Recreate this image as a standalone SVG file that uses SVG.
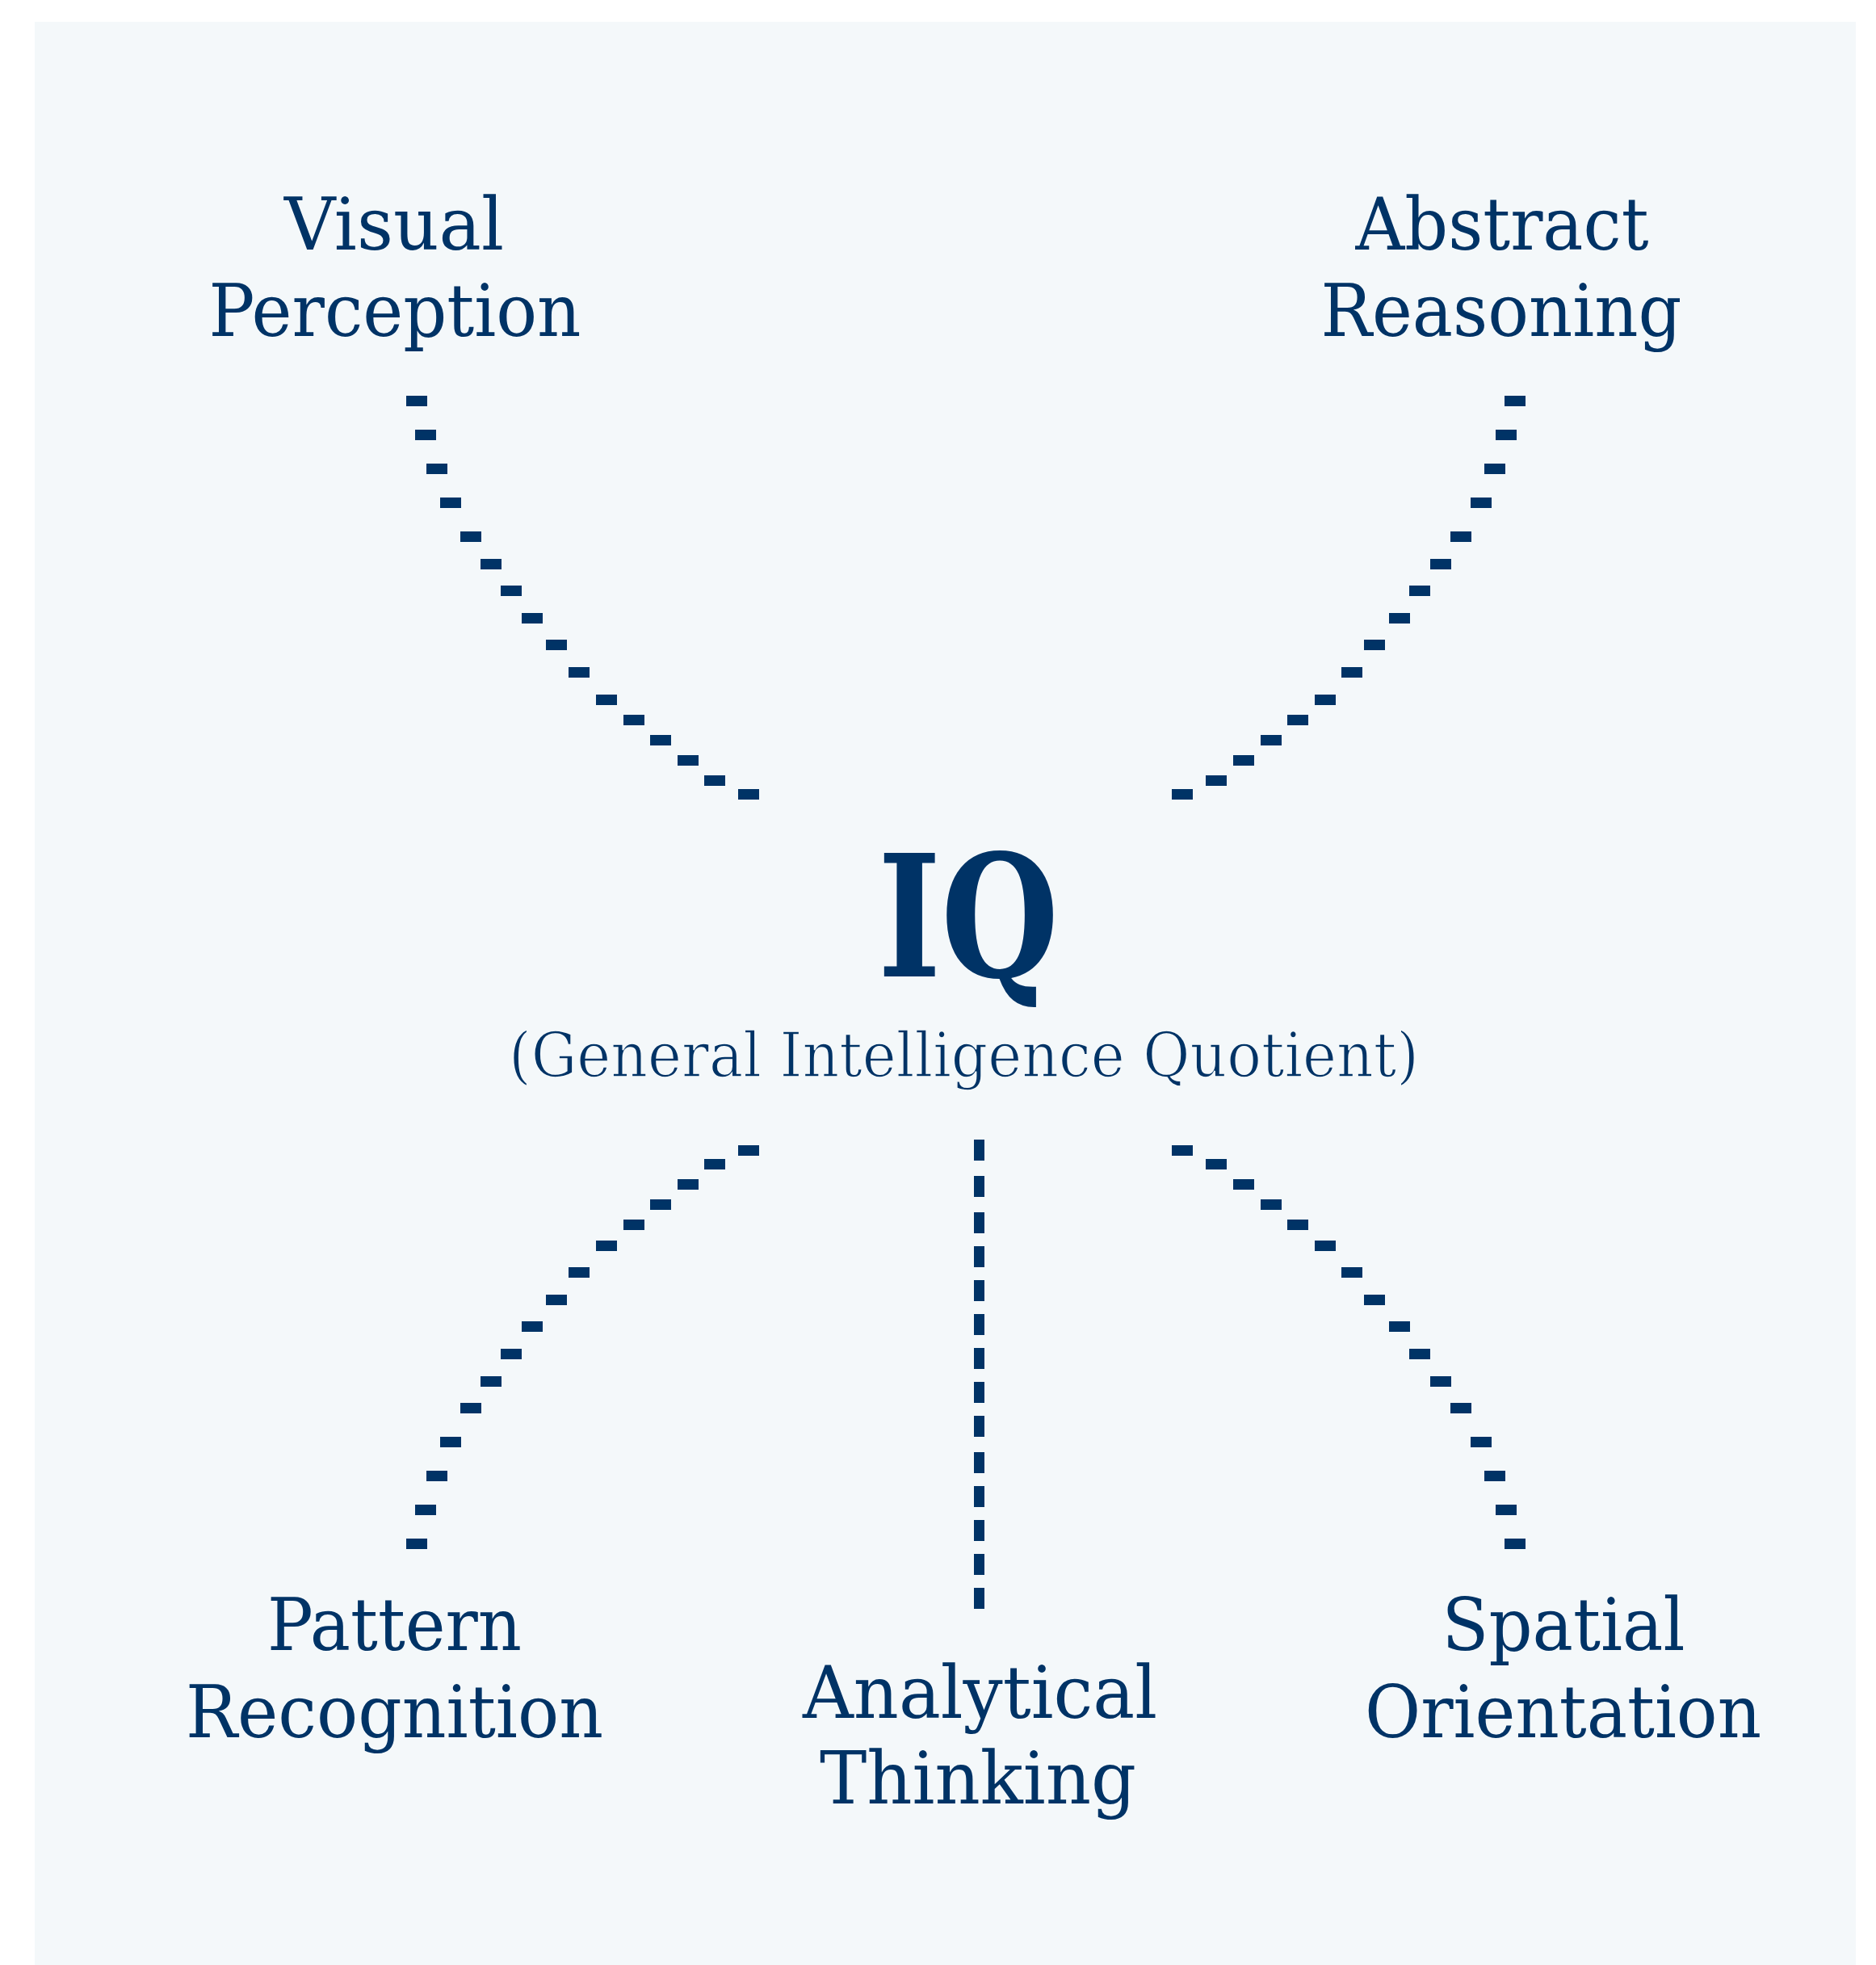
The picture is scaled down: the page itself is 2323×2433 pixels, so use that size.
<svg xmlns="http://www.w3.org/2000/svg" width="2323" height="2433" viewBox="0 0 2323 2433">
<style>
.bg{fill:#F4F8FA}
.lbl{font-family:"DejaVu Serif","Liberation Serif",serif;font-size:89px;fill:#003366;text-anchor:middle}
.iq{font-family:"DejaVu Serif","Liberation Serif",serif;font-size:210px;font-weight:bold;fill:#003366;text-anchor:middle}
.sub{font-family:"DejaVu Serif","Liberation Serif",serif;font-size:77px;fill:#003366;text-anchor:middle;stroke:#F4F8FA;stroke-width:1.6}
.d{fill:#003366}
</style>
<rect class="bg" x="43" y="27" width="2255" height="2406"/>
<g id="connectors">
<g id="c-visual">
<rect class="d" x="503" y="490" width="26" height="13"/>
<rect class="d" x="514" y="532" width="26" height="13"/>
<rect class="d" x="528" y="574" width="26" height="13"/>
<rect class="d" x="545" y="616" width="26" height="13"/>
<rect class="d" x="570" y="658" width="26" height="13"/>
<rect class="d" x="595" y="692" width="26" height="13"/>
<rect class="d" x="620" y="725" width="26" height="13"/>
<rect class="d" x="646" y="759" width="26" height="13"/>
<rect class="d" x="676" y="792" width="26" height="13"/>
<rect class="d" x="704" y="826" width="26" height="13"/>
<rect class="d" x="738" y="860" width="26" height="13"/>
<rect class="d" x="772" y="885" width="26" height="13"/>
<rect class="d" x="805" y="910" width="26" height="13"/>
<rect class="d" x="839" y="935" width="26" height="13"/>
<rect class="d" x="872" y="960" width="26" height="13"/>
<rect class="d" x="914" y="977" width="26" height="13"/>
</g>
<g id="c-abstract">
<rect class="d" x="1863" y="490" width="26" height="13"/>
<rect class="d" x="1852" y="532" width="26" height="13"/>
<rect class="d" x="1838" y="574" width="26" height="13"/>
<rect class="d" x="1821" y="616" width="26" height="13"/>
<rect class="d" x="1796" y="658" width="26" height="13"/>
<rect class="d" x="1771" y="692" width="26" height="13"/>
<rect class="d" x="1745" y="725" width="26" height="13"/>
<rect class="d" x="1720" y="759" width="26" height="13"/>
<rect class="d" x="1689" y="792" width="26" height="13"/>
<rect class="d" x="1661" y="826" width="26" height="13"/>
<rect class="d" x="1628" y="860" width="26" height="13"/>
<rect class="d" x="1594" y="885" width="26" height="13"/>
<rect class="d" x="1561" y="910" width="26" height="13"/>
<rect class="d" x="1527" y="935" width="26" height="13"/>
<rect class="d" x="1493" y="960" width="26" height="13"/>
<rect class="d" x="1451" y="977" width="26" height="13"/>
</g>
<g id="c-pattern">
<rect class="d" x="914" y="1418" width="26" height="13"/>
<rect class="d" x="872" y="1435" width="26" height="13"/>
<rect class="d" x="839" y="1460" width="26" height="13"/>
<rect class="d" x="805" y="1485" width="26" height="13"/>
<rect class="d" x="772" y="1510" width="26" height="13"/>
<rect class="d" x="738" y="1536" width="26" height="13"/>
<rect class="d" x="704" y="1569" width="26" height="13"/>
<rect class="d" x="676" y="1603" width="26" height="13"/>
<rect class="d" x="646" y="1636" width="26" height="13"/>
<rect class="d" x="620" y="1670" width="26" height="13"/>
<rect class="d" x="595" y="1704" width="26" height="13"/>
<rect class="d" x="570" y="1737" width="26" height="13"/>
<rect class="d" x="545" y="1779" width="26" height="13"/>
<rect class="d" x="528" y="1821" width="26" height="13"/>
<rect class="d" x="514" y="1863" width="26" height="13"/>
<rect class="d" x="503" y="1905" width="26" height="13"/>
</g>
<g id="c-spatial">
<rect class="d" x="1451" y="1418" width="26" height="13"/>
<rect class="d" x="1493" y="1435" width="26" height="13"/>
<rect class="d" x="1527" y="1460" width="26" height="13"/>
<rect class="d" x="1561" y="1485" width="26" height="13"/>
<rect class="d" x="1594" y="1510" width="26" height="13"/>
<rect class="d" x="1628" y="1536" width="26" height="13"/>
<rect class="d" x="1661" y="1569" width="26" height="13"/>
<rect class="d" x="1689" y="1603" width="26" height="13"/>
<rect class="d" x="1720" y="1636" width="26" height="13"/>
<rect class="d" x="1745" y="1670" width="26" height="13"/>
<rect class="d" x="1771" y="1704" width="26" height="13"/>
<rect class="d" x="1796" y="1737" width="26" height="13"/>
<rect class="d" x="1821" y="1779" width="26" height="13"/>
<rect class="d" x="1838" y="1821" width="26" height="13"/>
<rect class="d" x="1852" y="1863" width="26" height="13"/>
<rect class="d" x="1863" y="1905" width="26" height="13"/>
</g>
<g id="c-analytical">
<rect class="d" x="1206" y="1411" width="13" height="26"/>
<rect class="d" x="1206" y="1456" width="13" height="26"/>
<rect class="d" x="1206" y="1501" width="13" height="26"/>
<rect class="d" x="1206" y="1543" width="13" height="26"/>
<rect class="d" x="1206" y="1585" width="13" height="26"/>
<rect class="d" x="1206" y="1627" width="13" height="26"/>
<rect class="d" x="1206" y="1669" width="13" height="26"/>
<rect class="d" x="1206" y="1711" width="13" height="26"/>
<rect class="d" x="1206" y="1753" width="13" height="26"/>
<rect class="d" x="1206" y="1798" width="13" height="26"/>
<rect class="d" x="1206" y="1840" width="13" height="26"/>
<rect class="d" x="1206" y="1882" width="13" height="26"/>
<rect class="d" x="1206" y="1924" width="13" height="26"/>
<rect class="d" x="1206" y="1966" width="13" height="26"/>
</g>
</g>
<g id="node-iq">
<text class="iq" x="1199" y="1209" textLength="224" lengthAdjust="spacingAndGlyphs">IQ</text>
<text class="sub" x="1193.5" y="1333" textLength="1127" lengthAdjust="spacingAndGlyphs">(General Intelligence Quotient)</text>
</g>
<g id="node-visual">
<text class="lbl" x="488" y="309" textLength="272" lengthAdjust="spacingAndGlyphs">Visual</text>
<text class="lbl" x="489" y="416" textLength="461" lengthAdjust="spacingAndGlyphs">Perception</text>
</g>
<g id="node-abstract">
<text class="lbl" x="1860" y="309" textLength="363" lengthAdjust="spacingAndGlyphs">Abstract</text>
<text class="lbl" x="1859" y="416" textLength="447" lengthAdjust="spacingAndGlyphs">Reasoning</text>
</g>
<g id="node-pattern">
<text class="lbl" x="488.5" y="2043" textLength="315" lengthAdjust="spacingAndGlyphs">Pattern</text>
<text class="lbl" x="488.5" y="2151" textLength="517" lengthAdjust="spacingAndGlyphs">Recognition</text>
</g>
<g id="node-analytical">
<text class="lbl" x="1213.5" y="2127" textLength="439" lengthAdjust="spacingAndGlyphs">Analytical</text>
<text class="lbl" x="1211" y="2233" textLength="392" lengthAdjust="spacingAndGlyphs">Thinking</text>
</g>
<g id="node-spatial">
<text class="lbl" x="1936" y="2043" textLength="301" lengthAdjust="spacingAndGlyphs">Spatial</text>
<text class="lbl" x="1935.5" y="2151" textLength="491" lengthAdjust="spacingAndGlyphs">Orientation</text>
</g>
</svg>
